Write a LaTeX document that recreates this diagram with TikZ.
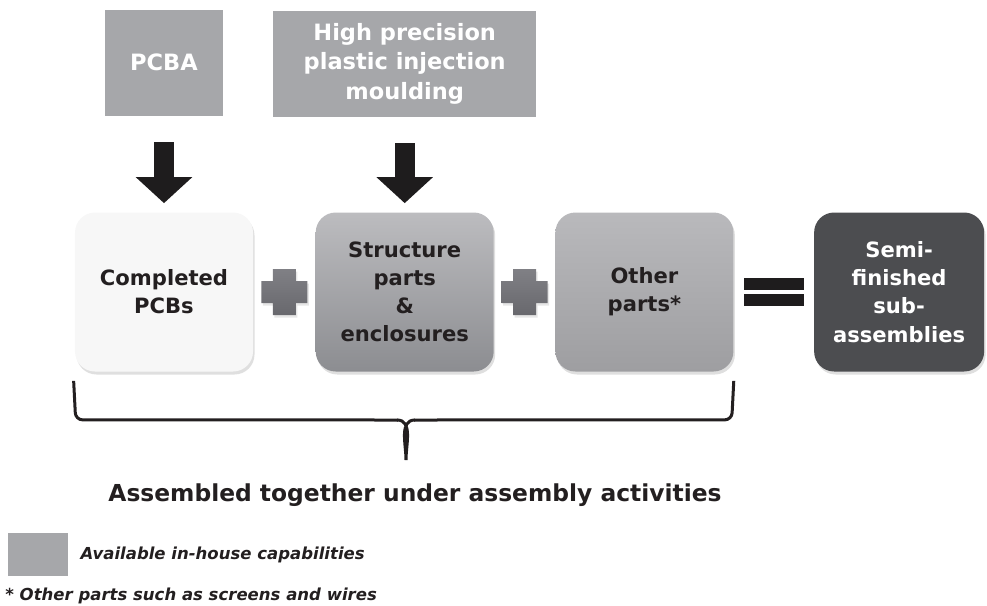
\documentclass[tikz,border=0pt]{standalone}
\usepackage{fontspec}
\setmainfont{DejaVu Sans}
\usetikzlibrary{arrows.meta, positioning, shadows, calc}

\definecolor{capgray}{RGB}{166,167,170}
\definecolor{textdark}{RGB}{35,31,32}
\definecolor{pcbsfill}{RGB}{247,247,247}
\definecolor{structtop}{RGB}{188,188,191}
\definecolor{structbot}{RGB}{140,141,145}
\definecolor{othertop}{RGB}{185,185,188}
\definecolor{otherbot}{RGB}{158,158,161}
\definecolor{semifill}{RGB}{76,77,80}
\definecolor{plustop}{RGB}{128,128,133}
\definecolor{plusbot}{RGB}{104,104,109}
\definecolor{arrowblack}{RGB}{30,28,29}

\begin{document}
\begin{tikzpicture}[
    x=0.2mm, y=-0.2mm,
    font=\bfseries\fontsize{12}{16}\selectfont,
    inhouse/.style={rectangle, fill=capgray, text=white, align=center, minimum height=21.2mm, inner sep=2pt, font=\bfseries\fontsize{12.8}{17}\selectfont},
    part/.style={rectangle, rounded corners=4mm, align=center, minimum width=35.6mm, minimum height=31.8mm, text=textdark, drop shadow={opacity=0.25, shadow xshift=0.3mm, shadow yshift=-0.6mm}},
    bigarrow/.style={-{Triangle[width=11mm, length=5.2mm]}, line width=4mm, draw=arrowblack, shorten <=5.2mm, shorten >=1.8mm},
    bar/.style={fill=arrowblack},
    bracket/.style={line width=0.6mm, draw=textdark, rounded corners=1.4mm},
    note/.style={font=\bfseries\itshape\fontsize{9.4}{11}\selectfont, text=textdark, inner sep=0pt, anchor=west},
    plussign/.pic={
        \shade[top color=plustop, bottom color=plusbot, drop shadow={opacity=0.2, shadow xshift=0.3mm, shadow yshift=-0.5mm}]
            (-23,-11) rectangle (23,11) (-11.5,-23) rectangle (11.5,23);
    }
]
\useasboundingbox (0,0) rectangle (987,605);

% Parts row
\node[part, fill=pcbsfill] (pcbs) at (164,292) {Completed\\PCBs};
\node[part, top color=structtop, bottom color=structbot, right=12.4mm of pcbs] (structure) {Structure\\parts\\\&\\enclosures};
\node[part, top color=othertop, bottom color=otherbot, right=12.2mm of structure] (other) {Other\\parts*};
\node[part, fill=semifill, text=white, minimum width=34mm, right=16mm of other] (semi) {Semi-\\finished\\sub-\\assemblies};

% In-house capabilities
\node[inhouse, minimum width=23.6mm, above=19.2mm of pcbs] (pcba) {PCBA};
\node[inhouse, minimum width=52.6mm, above=19mm of structure] (moulding) {High precision\\plastic injection\\moulding};

% Arrows
\draw[bigarrow] (pcba) -- (pcbs);
\draw[bigarrow] (moulding) -- (structure);

% Plus and equals signs
\pic at ($(pcbs.east)!0.5!(structure.west)$) {plussign};
\pic at ($(structure.east)!0.5!(other.west)$) {plussign};
\coordinate (eq) at ($(other.east)!0.5!(semi.west)$);
\fill[bar] ($(eq)+(-30,-14)$) rectangle ($(eq)+(30,-2)$);
\fill[bar] ($(eq)+(-30,2)$) rectangle ($(eq)+(30,14)$);

% Brace
\coordinate (bl) at ($(pcbs.south west)+(-1,9)$);
\coordinate (br) at ($(other.south east)+(0,9)$);
\coordinate (tip) at (406,460);
\draw[bracket] (bl) -- ($(bl)+(2,39)$) -- (398,420);
\draw[line width=0.6mm, draw=textdark] (397,420) to[out=0,in=90] (tip) to[out=90,in=180] (415,420);
\draw[bracket] (414,420) -- ($(br)+(-2,39)$) -- (br);

\node[font=\bfseries\fontsize{13.3}{15}\selectfont, text=textdark] (caption) at (415,495) {Assembled together under assembly activities};

% Legend
\node[rectangle, fill=capgray, minimum width=12mm, minimum height=8.6mm, inner sep=0pt] (key) at (38,554.5) {};
\node[note, right=2.4mm of key] (keytext) {Available in-house capabilities};
\node[note] (footnote) at (5,596) {* Other parts such as screens and wires};

\end{tikzpicture}
\end{document}
